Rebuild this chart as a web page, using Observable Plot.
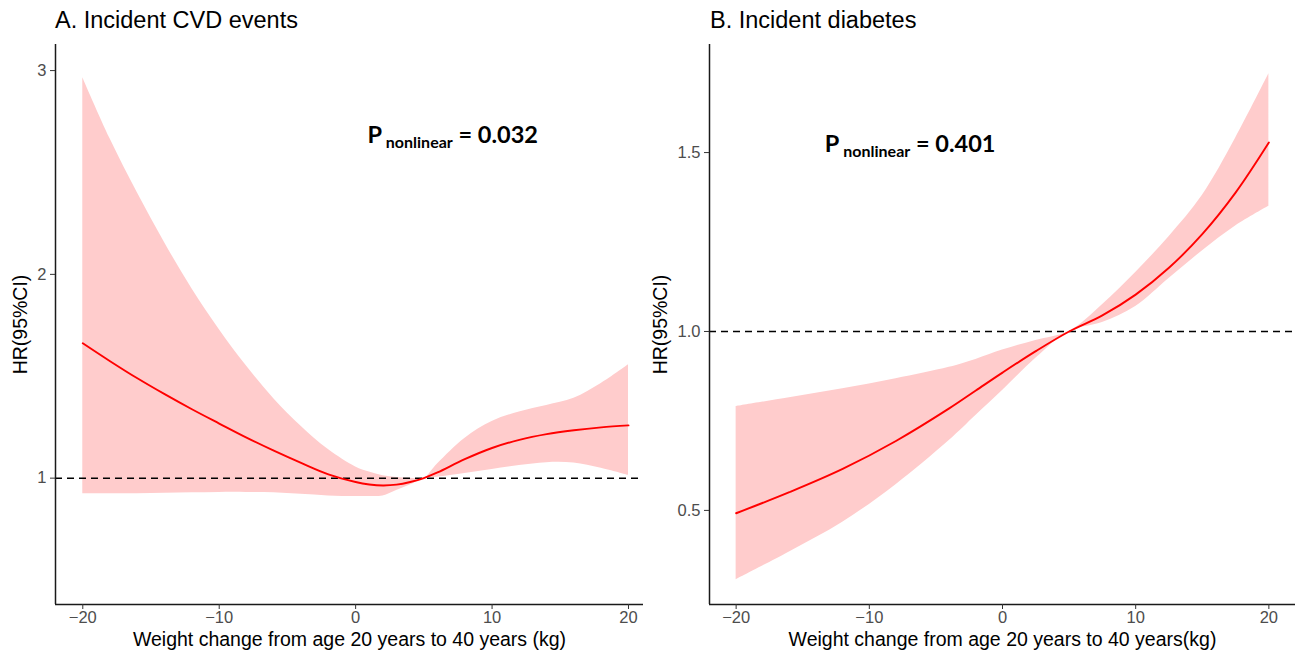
<!DOCTYPE html>
<html>
<head>
<meta charset="utf-8">
<script src="https://cdn.jsdelivr.net/npm/d3@7"></script>
<script src="https://cdn.jsdelivr.net/npm/@observablehq/plot@0.6"></script>
<style>
  body { margin: 0; background: #fff; }
  #wrap { position: relative; width: 1297px; height: 655px; font-family: "Liberation Sans", Arial, sans-serif; overflow: hidden; }
  .title { position: absolute; top: 8.5px; font-size: 23.5px; line-height: 23.5px; color: #000; white-space: nowrap; }
  .panel { position: absolute; top: 40px; }
  #wrap svg g[aria-label$="tick label"], #wrap svg g[aria-label$="tick label"] text { font-size: 16.5px; fill: #4D4D4D; }
</style>
</head>
<body>
<div id="wrap">
  <div class="title" style="left:55px">A. Incident CVD events</div>
  <div class="title" style="left:710px">B. Incident diabetes</div>
  <div class="panel" id="pa" style="left:0px"></div>
  <div class="panel" id="pb" style="left:648px"></div>
</div>
<script>
// ---- Panel A: Incident CVD events ----
const cvdX     = [-20, -18, -16, -14, -12, -10, -8, -6, -4, -2, 0, 1, 2, 3, 4, 5, 6, 8, 10, 12, 14, 16, 18, 20];
const cvdHR    = [1.662, 1.574, 1.49, 1.412, 1.338, 1.268, 1.199, 1.135, 1.075, 1.019, 0.981, 0.969, 0.964, 0.968, 0.981, 1.0, 1.028, 1.093, 1.148, 1.188, 1.216, 1.235, 1.249, 1.259];
const cvdUpper = [2.965, 2.665, 2.40, 2.155, 1.93, 1.73, 1.55, 1.39, 1.255, 1.14, 1.055, 1.03, 1.012, 1.003, 1.0, 1.0, 1.07, 1.195, 1.278, 1.325, 1.357, 1.392, 1.465, 1.557];
const cvdLower = [0.923, 0.923, 0.924, 0.926, 0.928, 0.93, 0.93, 0.928, 0.921, 0.913, 0.91, 0.91, 0.913, 0.94, 0.966, 1.0, 1.005, 1.023, 1.043, 1.062, 1.076, 1.074, 1.048, 1.013];
const cvdTicksY = [1, 2, 3];
const cvdP = "0.032";

// ---- Panel B: Incident diabetes ----
const dmX     = [-20, -16, -12, -8, -4, -2, 0, 2.5, 5, 7.5, 10, 12.5, 15, 17.5, 20];
const dmHR    = [0.492, 0.551, 0.616, 0.694, 0.785, 0.835, 0.885, 0.945, 1.0, 1.045, 1.103, 1.178, 1.272, 1.388, 1.528];
const dmUpper = [0.79, 0.815, 0.84, 0.868, 0.90, 0.922, 0.948, 0.975, 1.0, 1.075, 1.165, 1.265, 1.38, 1.54, 1.72];
const dmLower = [0.306, 0.384, 0.467, 0.572, 0.695, 0.765, 0.835, 0.925, 1.0, 1.025, 1.07, 1.148, 1.225, 1.295, 1.35];
const dmTicksY = [0.5, 1.0, 1.5];
const dmP = "0.401";

const ticksX = [-20, -10, 0, 10, 20];
const xLabelA = "Weight change from age 20 years to 40 years (kg)";
const xLabelB = "Weight change from age 20 years to 40 years(kg)";
const yLabel = "HR(95%CI)";

function makePanel(o) {
  const data = o.x.map((x, i) => ({x, hr: o.hr[i], lo: o.lo[i], hi: o.hi[i]}));
  const svg = Plot.plot({
    width: o.width,
    height: 615,
    marginTop: 4,
    marginBottom: 51,
    marginLeft: o.ml,
    marginRight: o.mr,
    style: {fontFamily: "'Liberation Sans', Arial, sans-serif", fontSize: "16.5px", background: "white", overflow: "visible"},
    x: {domain: o.xDomain},
    y: {domain: o.yDomain},
    marks: [
      Plot.areaY(data, {x: "x", y1: "lo", y2: "hi", fill: "#FFCCCC", curve: "catmull-rom"}),
      Plot.ruleY([1], {stroke: "black", strokeWidth: 1.5, strokeDasharray: "7,5"}),
      Plot.line(data, {x: "x", y: "hr", stroke: "#FF0000", strokeWidth: 1.9, curve: "catmull-rom"}),
      Plot.ruleY([o.yDomain[0]], {stroke: "#1a1a1a", strokeWidth: 1.5}),
      Plot.ruleX([o.xDomain[0]], {stroke: "#1a1a1a", strokeWidth: 1.5}),
      Plot.axisX({ticks: ticksX, tickSize: 5, tickPadding: 2, tickFormat: d => d < 0 ? "\u2212" + Math.abs(d) : String(d), label: null, fontSize: 16.5, fill: "#4D4D4D", stroke: "#333"}),
      Plot.axisY({ticks: o.ticksY, tickSize: 5, tickPadding: 4, tickFormat: o.fmt, label: null, fontSize: 16.5, fill: "#4D4D4D", stroke: "#333"}),
      Plot.text([o.xLabel], {frameAnchor: "bottom", textAnchor: "middle", dy: 41, fontSize: 19.5, fill: "black"}),
      Plot.text([yLabel], {frameAnchor: "left", textAnchor: "middle", rotate: -90, dx: o.ylabDx, fontSize: 19.5, fill: "black"})
    ]
  });
  const sx = svg.scale("x"), sy = svg.scale("y");
  const t = d3.select(svg).append("text")
    .attr("x", sx.apply(o.pPos[0]))
    .attr("y", sy.apply(o.pPos[1]))
    .attr("text-anchor", "start")
    .attr("font-family", "Lato, 'Open Sans', sans-serif")
    .attr("font-weight", "bold")
    .attr("fill", "black");
  t.append("tspan").attr("font-size", 23.5).text("P");
  t.append("tspan").attr("font-size", 16).attr("dy", 5).text(" nonlinear");
  t.append("tspan").attr("font-size", 23.5).attr("dy", -5).text(" = " + o.p);
  document.getElementById(o.id).appendChild(svg);
}

makePanel({
  id: "pa", width: 648, ml: 55, mr: 5,
  x: cvdX, hr: cvdHR, lo: cvdLower, hi: cvdUpper,
  xDomain: [-22, 21.1], yDomain: [0.38, 3.128],
  ticksY: cvdTicksY, fmt: d => String(d),
  xLabel: xLabelA, ylabDx: -35,
  pPos: [0.9, 2.64], p: cvdP
});

makePanel({
  id: "pb", width: 649, ml: 61, mr: 2,
  x: dmX, hr: dmHR, lo: dmLower, hi: dmUpper,
  xDomain: [-22, 22], yDomain: [0.237, 1.802],
  ticksY: dmTicksY, fmt: d3.format(".1f"),
  xLabel: xLabelB, ylabDx: -49,
  pPos: [-13.3, 1.5], p: dmP
});
</script>
</body>
</html>
